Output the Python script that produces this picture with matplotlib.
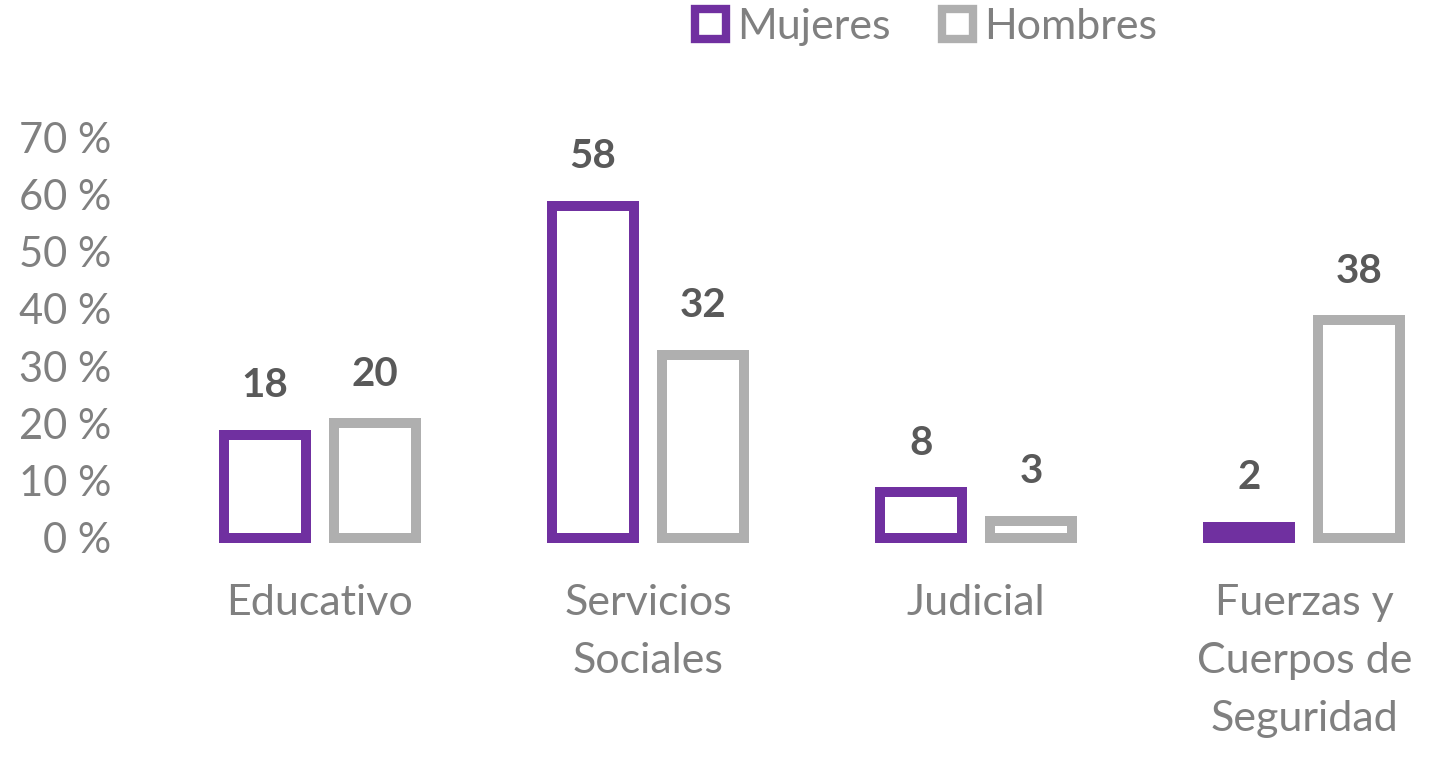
import matplotlib.pyplot as plt
from matplotlib.patches import Patch
import numpy as np

categorias = ['Educativo', 'Servicios\nSociales', 'Judicial',
              'Fuerzas y\nCuerpos de\nSeguridad']
mujeres = [18, 58, 8, 2]
hombres = [20, 32, 3, 38]
ticks_y = [0, 10, 20, 30, 40, 50, 60, 70]

morado = '#7030A0'
gris = '#AFAFAF'
texto = '#808080'
etiqueta = '#595959'

plt.rcParams['font.family'] = ['Lato', 'DejaVu Sans']

fig = plt.figure(figsize=(14.42, 7.57), dpi=100)
ax = fig.add_axes([0.1195, 0.2893, 0.8805, 0.5297])

x = np.arange(len(categorias))
w = 0.25
off = 0.168
lw = 7.2

b1 = ax.bar(x - off, mujeres, w, facecolor='white', edgecolor=morado,
            linewidth=lw, clip_on=False)
b2 = ax.bar(x + off, hombres, w, facecolor='white', edgecolor=gris,
            linewidth=lw, clip_on=False)
# barra muy baja: se ve rellena
b1[3].set_facecolor(morado)

for bars, vals in ((b1, mujeres), (b2, hombres)):
    for b, v in zip(bars, vals):
        ax.annotate(str(v), (b.get_x() + b.get_width() / 2, v),
                    xytext=(0, 27), textcoords='offset points',
                    ha='center', va='baseline', fontsize=29,
                    fontweight='bold', color=etiqueta)

ax.set_xlim(-0.45, 3.42)
ax.set_ylim(0, 70)
ax.set_yticks(ticks_y)
ax.set_yticklabels([f'{t} %' for t in ticks_y])
ax.set_xticks(x)
ax.set_xticklabels(categorias, linespacing=1.65)
ax.tick_params(axis='y', length=0, pad=44, labelsize=30, labelcolor=texto)
ax.tick_params(axis='x', length=0, pad=33, labelsize=31, labelcolor=texto)
for s in ax.spines.values():
    s.set_visible(False)

handles = [Patch(facecolor='white', edgecolor=morado, linewidth=6, label='Mujeres'),
           Patch(facecolor='white', edgecolor=gris, linewidth=6, label='Hombres')]
fig.legend(handles=handles, loc='center', bbox_to_anchor=(926 / 1442, 1 - 27 / 757),
           ncol=2, frameon=False, fontsize=31, labelcolor=texto,
           handlelength=0.72, handleheight=0.72, handletextpad=0.25,
           columnspacing=1.2)

fig.savefig('out.png', dpi=100)
